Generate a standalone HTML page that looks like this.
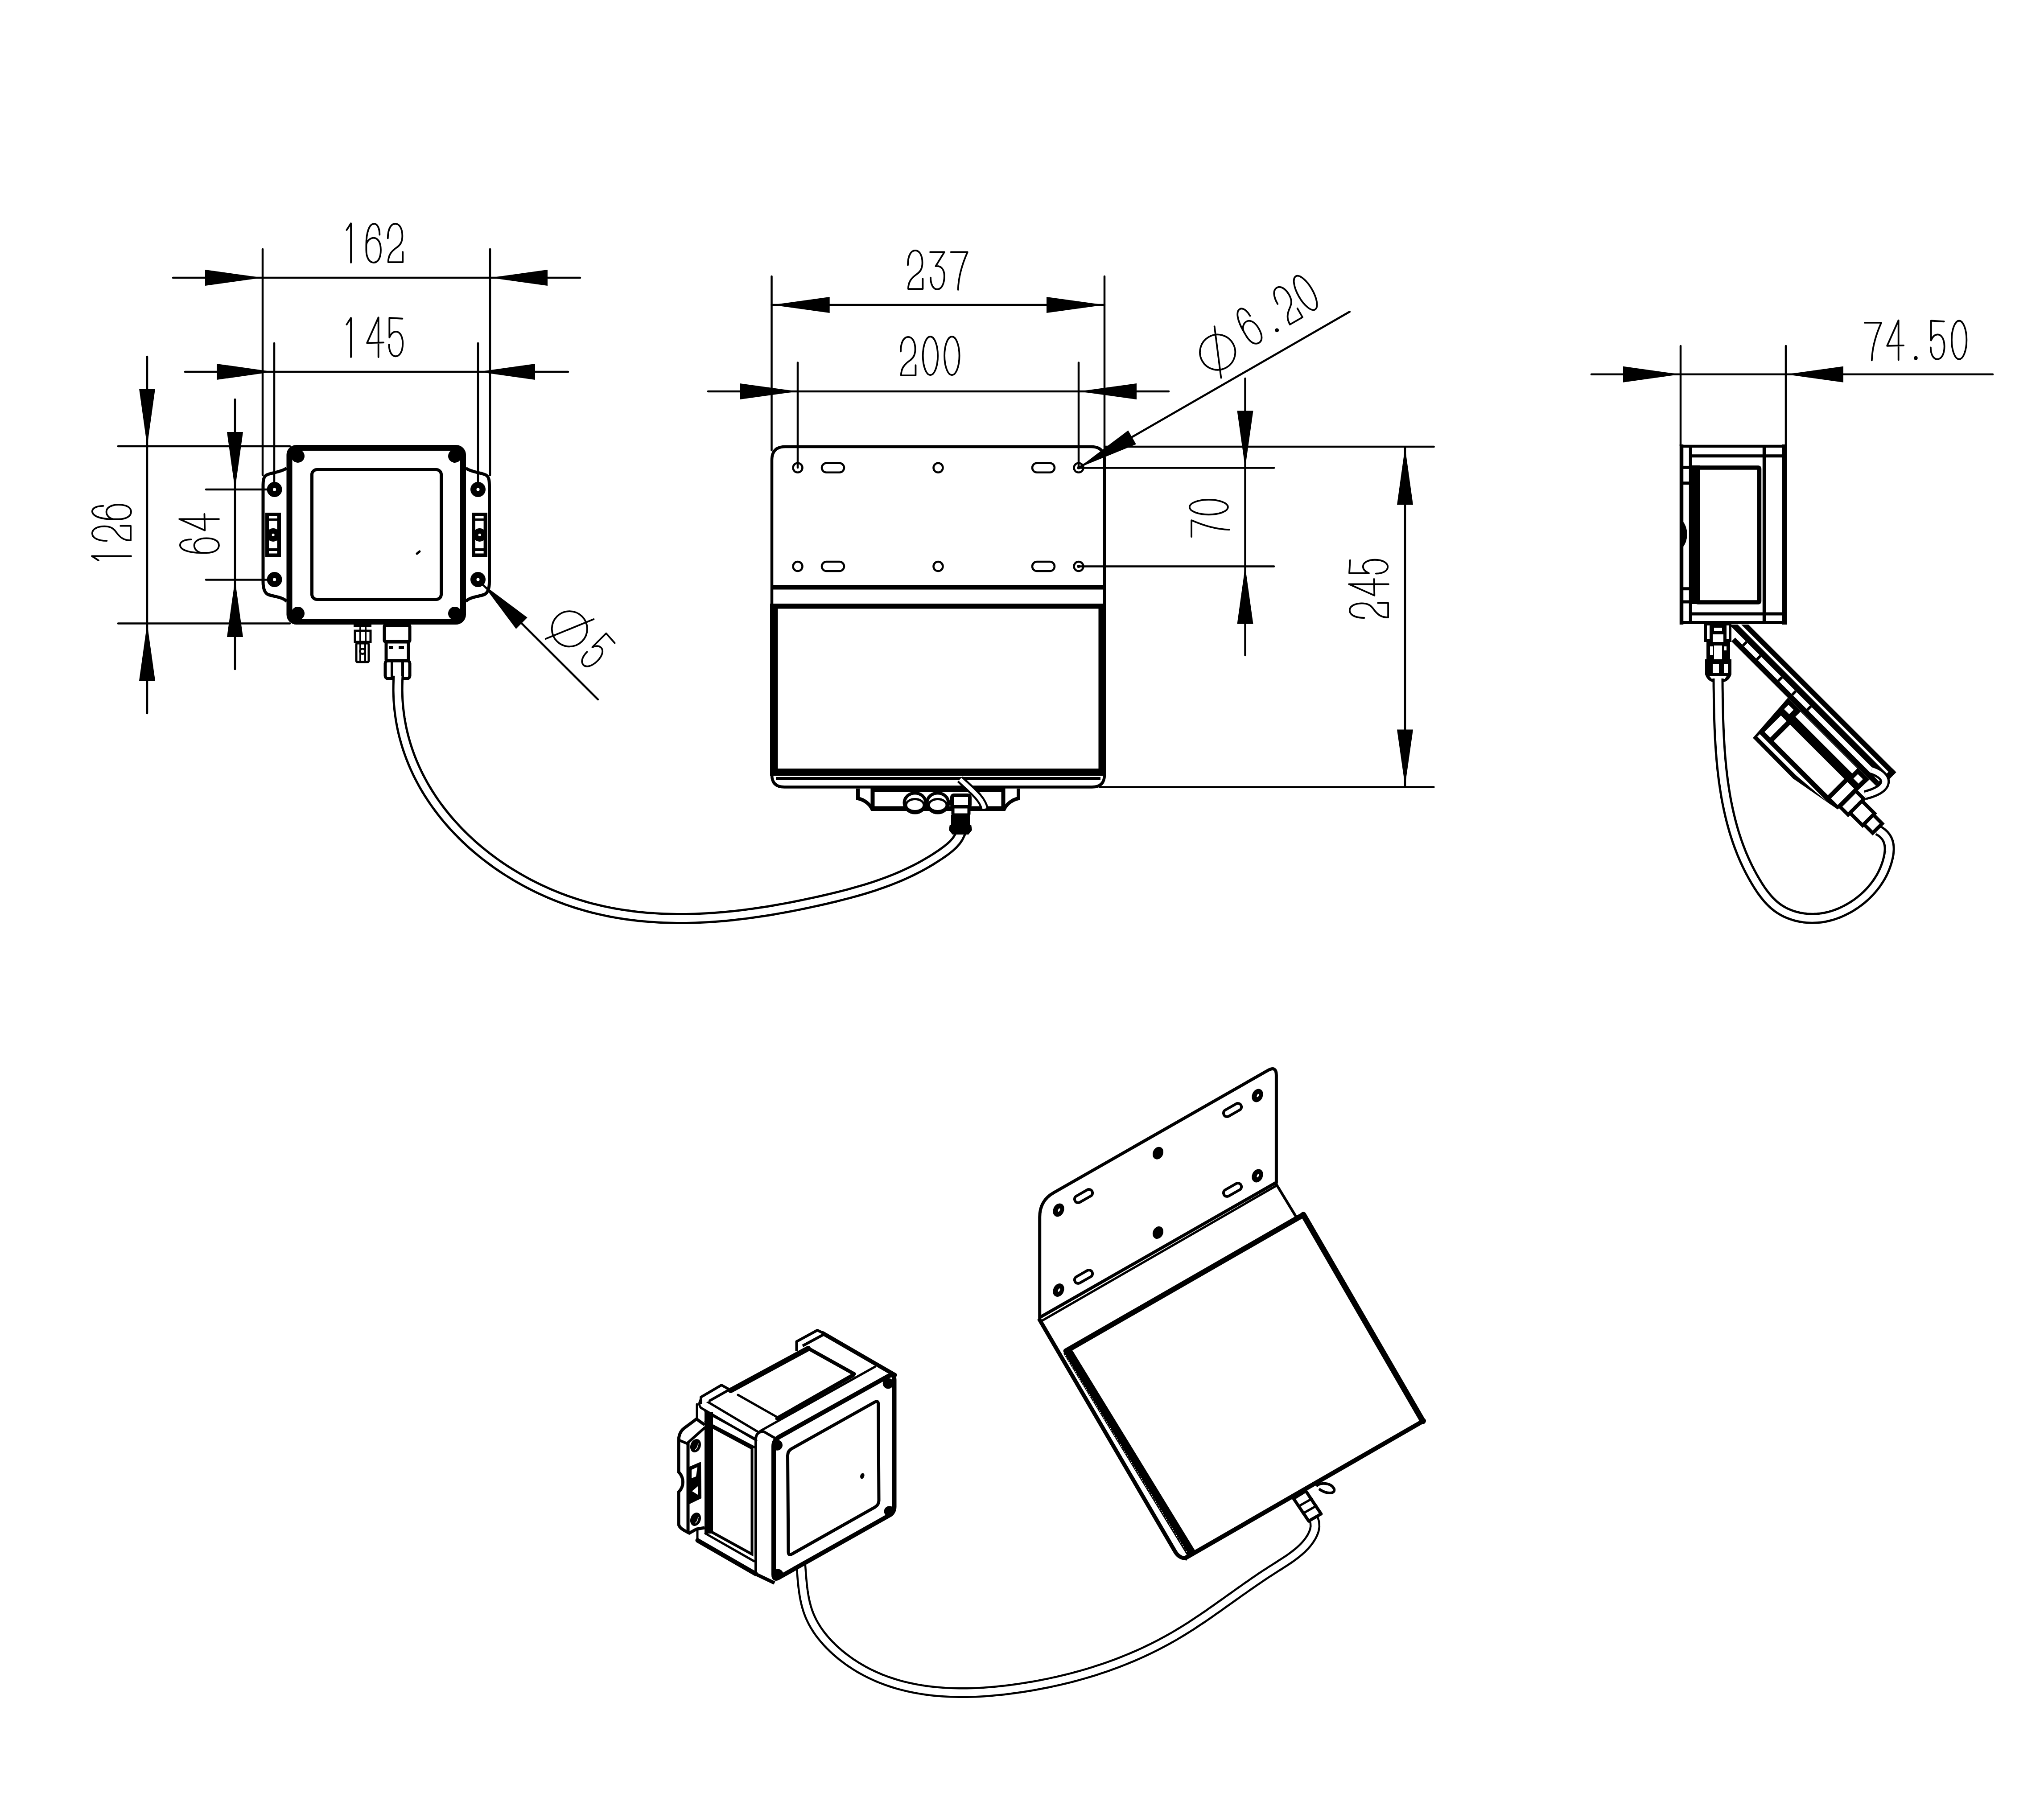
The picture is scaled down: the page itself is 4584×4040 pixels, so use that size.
<!DOCTYPE html><html><head><meta charset="utf-8"><style>html,body{margin:0;padding:0;background:#fff;width:4584px;height:4040px;overflow:hidden;font-family:"Liberation Sans",sans-serif}svg{display:block}</style></head><body><svg width="4584" height="4040" viewBox="0 0 4584 4040" stroke="#000" fill="none"><line x1="388" y1="623" x2="1301" y2="623" stroke-width="4.5" stroke-linecap="round"/>
<line x1="589" y1="559" x2="589" y2="1066" stroke-width="4.5" stroke-linecap="round"/>
<line x1="1099" y1="559" x2="1099" y2="1066" stroke-width="4.5" stroke-linecap="round"/>
<path d="M589,623 L460,641 L460,605 Z" stroke="none" fill="#000"/>
<path d="M1099,623 L1228,605 L1228,641 Z" stroke="none" fill="#000"/>
<g transform="translate(773,589) rotate(0) scale(0.8800) translate(0,-100)" stroke-width="4.32" stroke-linecap="round" stroke-linejoin="round"><path d="M5,17 L16,0 L16,100" transform="translate(0,0)" fill="none"/><path d="M34,29 C34,12 28,1 20,1 C8,1 0,22 0,55 L0,68 C0,88 8,100 19,100 C30,100 37,88 37,68 C37,48 29,37 19,37 C10,37 2,44 0,55" transform="translate(55,0)" fill="none"/><path d="M0,38 C0,14 8,1 19,1 C30,1 37,14 37,32 C37,47 32,55 22,62 C8,72 1,82 1,99 L38,99 L38,73" transform="translate(110,0)" fill="none"/></g>
<line x1="415" y1="834" x2="1274" y2="834" stroke-width="4.5" stroke-linecap="round"/>
<line x1="615" y1="770" x2="615" y2="1090" stroke-width="4.5" stroke-linecap="round"/>
<line x1="1072" y1="770" x2="1072" y2="1090" stroke-width="4.5" stroke-linecap="round"/>
<path d="M613,834 L486,852 L486,816 Z" stroke="none" fill="#000"/>
<path d="M1072,834 L1200,816 L1200,852 Z" stroke="none" fill="#000"/>
<g transform="translate(773,801) rotate(0) scale(0.8800) translate(0,-100)" stroke-width="4.32" stroke-linecap="round" stroke-linejoin="round"><path d="M5,17 L16,0 L16,100" transform="translate(0,0)" fill="none"/><path d="M31,100 L31,-1 L2,64 L44,63" transform="translate(55,0)" fill="none"/><path d="M37,2 L4,0 L4,50 C8,40 14,35 21,35 C31,35 38,48 38,65 C38,86 30,98 20,98 C10,98 3,86 3,68" transform="translate(110,0)" fill="none"/></g>
<line x1="330" y1="800" x2="330" y2="1600" stroke-width="4.5" stroke-linecap="round"/>
<line x1="265" y1="1001" x2="650" y2="1001" stroke-width="4.5" stroke-linecap="round"/>
<line x1="265" y1="1398.5" x2="650" y2="1398.5" stroke-width="4.5" stroke-linecap="round"/>
<path d="M330,1001 L312,872 L348,872 Z" stroke="none" fill="#000"/>
<path d="M330,1398.5 L348,1527 L312,1527 Z" stroke="none" fill="#000"/>
<g transform="translate(294,1261.5) rotate(-90) scale(0.8800) translate(0,-100)" stroke-width="4.32" stroke-linecap="round" stroke-linejoin="round"><path d="M5,17 L16,0 L16,100" transform="translate(0,0)" fill="none"/><path d="M0,38 C0,14 8,1 19,1 C30,1 37,14 37,32 C37,47 32,55 22,62 C8,72 1,82 1,99 L38,99 L38,73" transform="translate(55,0)" fill="none"/><path d="M34,29 C34,12 28,1 20,1 C8,1 0,22 0,55 L0,68 C0,88 8,100 19,100 C30,100 37,88 37,68 C37,48 29,37 19,37 C10,37 2,44 0,55" transform="translate(110,0)" fill="none"/></g>
<line x1="527" y1="896" x2="527" y2="1501" stroke-width="4.5" stroke-linecap="round"/>
<line x1="462" y1="1098" x2="600" y2="1098" stroke-width="4.5" stroke-linecap="round"/>
<line x1="462" y1="1300.5" x2="600" y2="1300.5" stroke-width="4.5" stroke-linecap="round"/>
<path d="M527,1098 L509,969 L545,969 Z" stroke="none" fill="#000"/>
<path d="M527,1300.5 L545,1429 L509,1429 Z" stroke="none" fill="#000"/>
<g transform="translate(491,1240) rotate(-90) scale(0.8800) translate(0,-100)" stroke-width="4.32" stroke-linecap="round" stroke-linejoin="round"><path d="M34,29 C34,12 28,1 20,1 C8,1 0,22 0,55 L0,68 C0,88 8,100 19,100 C30,100 37,88 37,68 C37,48 29,37 19,37 C10,37 2,44 0,55" transform="translate(0,0)" fill="none"/><path d="M31,100 L31,-1 L2,64 L44,63" transform="translate(55,0)" fill="none"/></g>
<line x1="1072" y1="1300.6" x2="1341" y2="1569" stroke-width="4.5" stroke-linecap="round"/>
<path d="M1082,1310 L1182.7,1385.3 L1157.3,1410.7 Z" stroke="none" fill="#000"/>
<g transform="translate(1230.6,1430) rotate(45) scale(0.8800) translate(0,-100)" stroke-width="4.32" stroke-linecap="round" stroke-linejoin="round"><circle cx="22" cy="47" r="45" fill="none"/><path d="M-3,108 L48,-14" fill="none"/><path d="M37,2 L4,0 L4,50 C8,40 14,35 21,35 C31,35 38,48 38,65 C38,86 30,98 20,98 C10,98 3,86 3,68" transform="translate(92,-11)" fill="none"/></g>
<path d="M643,1050 C630,1060 606,1060 597,1066 C590,1071 590,1080 590,1092 L590,1305 C590,1318 592,1328 600,1333 C610,1338 632,1338 643,1349" stroke-width="7" fill="none" />
<path d="M1044.5,1050 C1057.5,1060 1081.5,1060 1090.5,1066 C1097.5,1071 1097.5,1080 1097.5,1092 L1097.5,1305 C1097.5,1318 1095.5,1328 1087.5,1333 C1077.5,1338 1055.5,1338 1044.5,1349" stroke-width="7" fill="none" />
<circle cx="615.6" cy="1098" r="17" stroke="none" fill="#000"/>
<circle cx="615.6" cy="1098" r="3.5" stroke="none" fill="#fff"/>
<circle cx="615.6" cy="1300" r="17" stroke="none" fill="#000"/>
<circle cx="615.6" cy="1300" r="3.5" stroke="none" fill="#fff"/>
<circle cx="1072" cy="1098" r="17" stroke="none" fill="#000"/>
<circle cx="1072" cy="1098" r="3.5" stroke="none" fill="#fff"/>
<circle cx="1072" cy="1300" r="17" stroke="none" fill="#000"/>
<circle cx="1072" cy="1300" r="3.5" stroke="none" fill="#fff"/>
<rect x="595" y="1150" width="35" height="99" stroke="none" fill="#000"/>
<rect x="603" y="1158" width="18.6" height="5" stroke="none" fill="#fff"/>
<rect x="603" y="1236" width="18.6" height="5.5" stroke="none" fill="#fff"/>
<rect x="603" y="1168" width="18.6" height="62" stroke="none" fill="#fff"/>
<circle cx="612.6" cy="1200" r="15" stroke="none" fill="#000"/>
<circle cx="612.6" cy="1200" r="3" stroke="none" fill="#fff"/>
<rect x="1058" y="1150" width="35" height="99" stroke="none" fill="#000"/>
<rect x="1066" y="1158" width="18.6" height="5" stroke="none" fill="#fff"/>
<rect x="1066" y="1236" width="18.6" height="5.5" stroke="none" fill="#fff"/>
<rect x="1066" y="1168" width="18.6" height="62" stroke="none" fill="#fff"/>
<circle cx="1075.7" cy="1200" r="15" stroke="none" fill="#000"/>
<circle cx="1075.7" cy="1200" r="3" stroke="none" fill="#fff"/>
<rect x="649" y="1004.5" width="389.5" height="390" rx="16" stroke-width="13" fill="none"/>
<circle cx="668" cy="1023" r="15" stroke="none" fill="#000"/>
<circle cx="1020" cy="1023" r="15" stroke="none" fill="#000"/>
<circle cx="668" cy="1376" r="15" stroke="none" fill="#000"/>
<circle cx="1020" cy="1376" r="15" stroke="none" fill="#000"/>
<rect x="699.5" y="1053.5" width="290" height="291" rx="11" stroke-width="7" fill="none"/>
<line x1="935" y1="1242" x2="941" y2="1237" stroke-width="5" stroke-linecap="round"/>
<rect x="793" y="1401" width="40" height="6" stroke="none" fill="#000"/>
<rect x="796" y="1415" width="35" height="25" rx="0" stroke-width="5" fill="none"/>
<line x1="808" y1="1408" x2="808" y2="1440" stroke-width="4" stroke-linecap="round"/>
<line x1="820" y1="1408" x2="820" y2="1440" stroke-width="4" stroke-linecap="round"/>
<rect x="799" y="1443" width="28" height="42" rx="3" stroke-width="5" fill="none"/>
<line x1="808" y1="1443" x2="808" y2="1485" stroke-width="4" stroke-linecap="round"/>
<line x1="819" y1="1443" x2="819" y2="1485" stroke-width="4" stroke-linecap="round"/>
<circle cx="813" cy="1461" r="8" stroke="none" fill="#000"/>
<circle cx="813" cy="1461" r="3.5" stroke="none" fill="#fff"/>
<rect x="862" y="1403" width="57" height="36" rx="2" stroke-width="7" fill="none"/>
<rect x="866" y="1440" width="50" height="42" rx="2" stroke-width="7" fill="none"/>
<rect x="872" y="1449" width="10" height="7" stroke="none" fill="#000"/>
<rect x="894" y="1449" width="12" height="7" stroke="none" fill="#000"/>
<rect x="864" y="1482" width="55" height="40" rx="6" stroke-width="7" fill="none"/>
<line x1="879" y1="1482" x2="879" y2="1522" stroke-width="6" stroke-linecap="round"/>
<line x1="903" y1="1482" x2="903" y2="1522" stroke-width="6" stroke-linecap="round"/>
<path d="M893.0,1516.3 L892.5,1527.2 L892.2,1538.0 L892.1,1548.7 L892.4,1559.3 L892.8,1569.8 L893.6,1580.3 L894.6,1590.7 L895.8,1601.0 L897.3,1611.3 L899.0,1621.4 L900.9,1631.5 L903.1,1641.5 L905.5,1651.4 L908.2,1661.2 L911.0,1670.9 L914.1,1680.5 L917.4,1690.0 L920.9,1699.5 L924.6,1708.8 L928.5,1718.1 L932.6,1727.2 L936.9,1736.3 L941.5,1745.3 L946.2,1754.1 L951.0,1762.9 L956.1,1771.5 L961.4,1780.1 L966.8,1788.5 L972.4,1796.9 L978.2,1805.1 L984.1,1813.2 L990.2,1821.2 L996.5,1829.1 L1002.9,1836.9 L1009.5,1844.6 L1016.2,1852.1 L1023.1,1859.6 L1030.1,1866.9 L1037.2,1874.1 L1044.5,1881.2 L1051.9,1888.1 L1059.4,1895.0 L1067.1,1901.7 L1074.9,1908.3 L1082.8,1914.7 L1090.8,1921.1 L1099.0,1927.3 L1107.2,1933.3 L1115.5,1939.3 L1124.0,1945.1 L1132.5,1950.8 L1141.2,1956.3 L1149.9,1961.7 L1158.7,1967.0 L1167.6,1972.1 L1176.6,1977.1 L1185.6,1982.0 L1194.7,1986.7 L1203.9,1991.2 L1213.2,1995.7 L1222.5,1999.9 L1231.9,2004.1 L1241.3,2008.0 L1250.8,2011.9 L1260.3,2015.5 L1269.9,2019.1 L1279.5,2022.4 L1289.2,2025.7 L1298.9,2028.7 L1308.6,2031.6 L1318.4,2034.4 L1328.1,2037.0 L1338.0,2039.4 L1347.8,2041.7 L1357.7,2043.9 L1367.6,2045.9 L1377.5,2047.8 L1387.4,2049.5 L1397.4,2051.1 L1407.4,2052.5 L1417.4,2053.9 L1427.4,2055.1 L1437.5,2056.2 L1447.5,2057.1 L1457.6,2057.9 L1467.7,2058.6 L1477.8,2059.2 L1488.0,2059.7 L1498.1,2060.1 L1508.3,2060.3 L1518.4,2060.4 L1528.6,2060.5 L1538.8,2060.4 L1549.0,2060.2 L1559.2,2059.9 L1569.4,2059.5 L1579.6,2059.0 L1589.8,2058.5 L1600.0,2057.8 L1610.3,2057.0 L1620.5,2056.2 L1630.7,2055.2 L1640.9,2054.2 L1651.1,2053.1 L1661.3,2051.9 L1671.5,2050.7 L1681.7,2049.3 L1691.9,2047.9 L1702.1,2046.4 L1712.3,2044.9 L1722.5,2043.3 L1732.6,2041.6 L1742.8,2039.8 L1752.9,2038.0 L1763.1,2036.2 L1773.2,2034.3 L1783.3,2032.3 L1793.3,2030.3 L1803.4,2028.2 L1813.5,2026.1 L1823.5,2023.9 L1833.5,2021.7 L1843.5,2019.5 L1853.4,2017.2 L1863.4,2014.8 L1873.3,2012.5 L1883.1,2010.0 L1893.0,2007.5 L1902.8,2005.0 L1912.6,2002.3 L1922.3,1999.6 L1932.0,1996.8 L1941.7,1993.9 L1951.3,1990.9 L1960.9,1987.8 L1970.4,1984.5 L1979.9,1981.2 L1989.3,1977.8 L1998.6,1974.2 L2007.9,1970.5 L2017.2,1966.6 L2026.4,1962.6 L2035.5,1958.4 L2044.5,1954.1 L2053.5,1949.6 L2062.4,1945.0 L2071.3,1940.1 L2080.0,1935.1 L2088.7,1929.9 L2097.3,1924.5 L2105.8,1918.9 L2114.3,1913.1 L2122.6,1907.1 L2130.6,1900.7 L2138.0,1893.8 L2144.6,1886.3 L2150.1,1878.0 L2154.4,1868.9 L2157.1,1858.7" stroke-width="25" fill="none" stroke-linecap="butt" stroke-linejoin="round"/>
<path d="M893.0,1516.3 L892.5,1527.2 L892.2,1538.0 L892.1,1548.7 L892.4,1559.3 L892.8,1569.8 L893.6,1580.3 L894.6,1590.7 L895.8,1601.0 L897.3,1611.3 L899.0,1621.4 L900.9,1631.5 L903.1,1641.5 L905.5,1651.4 L908.2,1661.2 L911.0,1670.9 L914.1,1680.5 L917.4,1690.0 L920.9,1699.5 L924.6,1708.8 L928.5,1718.1 L932.6,1727.2 L936.9,1736.3 L941.5,1745.3 L946.2,1754.1 L951.0,1762.9 L956.1,1771.5 L961.4,1780.1 L966.8,1788.5 L972.4,1796.9 L978.2,1805.1 L984.1,1813.2 L990.2,1821.2 L996.5,1829.1 L1002.9,1836.9 L1009.5,1844.6 L1016.2,1852.1 L1023.1,1859.6 L1030.1,1866.9 L1037.2,1874.1 L1044.5,1881.2 L1051.9,1888.1 L1059.4,1895.0 L1067.1,1901.7 L1074.9,1908.3 L1082.8,1914.7 L1090.8,1921.1 L1099.0,1927.3 L1107.2,1933.3 L1115.5,1939.3 L1124.0,1945.1 L1132.5,1950.8 L1141.2,1956.3 L1149.9,1961.7 L1158.7,1967.0 L1167.6,1972.1 L1176.6,1977.1 L1185.6,1982.0 L1194.7,1986.7 L1203.9,1991.2 L1213.2,1995.7 L1222.5,1999.9 L1231.9,2004.1 L1241.3,2008.0 L1250.8,2011.9 L1260.3,2015.5 L1269.9,2019.1 L1279.5,2022.4 L1289.2,2025.7 L1298.9,2028.7 L1308.6,2031.6 L1318.4,2034.4 L1328.1,2037.0 L1338.0,2039.4 L1347.8,2041.7 L1357.7,2043.9 L1367.6,2045.9 L1377.5,2047.8 L1387.4,2049.5 L1397.4,2051.1 L1407.4,2052.5 L1417.4,2053.9 L1427.4,2055.1 L1437.5,2056.2 L1447.5,2057.1 L1457.6,2057.9 L1467.7,2058.6 L1477.8,2059.2 L1488.0,2059.7 L1498.1,2060.1 L1508.3,2060.3 L1518.4,2060.4 L1528.6,2060.5 L1538.8,2060.4 L1549.0,2060.2 L1559.2,2059.9 L1569.4,2059.5 L1579.6,2059.0 L1589.8,2058.5 L1600.0,2057.8 L1610.3,2057.0 L1620.5,2056.2 L1630.7,2055.2 L1640.9,2054.2 L1651.1,2053.1 L1661.3,2051.9 L1671.5,2050.7 L1681.7,2049.3 L1691.9,2047.9 L1702.1,2046.4 L1712.3,2044.9 L1722.5,2043.3 L1732.6,2041.6 L1742.8,2039.8 L1752.9,2038.0 L1763.1,2036.2 L1773.2,2034.3 L1783.3,2032.3 L1793.3,2030.3 L1803.4,2028.2 L1813.5,2026.1 L1823.5,2023.9 L1833.5,2021.7 L1843.5,2019.5 L1853.4,2017.2 L1863.4,2014.8 L1873.3,2012.5 L1883.1,2010.0 L1893.0,2007.5 L1902.8,2005.0 L1912.6,2002.3 L1922.3,1999.6 L1932.0,1996.8 L1941.7,1993.9 L1951.3,1990.9 L1960.9,1987.8 L1970.4,1984.5 L1979.9,1981.2 L1989.3,1977.8 L1998.6,1974.2 L2007.9,1970.5 L2017.2,1966.6 L2026.4,1962.6 L2035.5,1958.4 L2044.5,1954.1 L2053.5,1949.6 L2062.4,1945.0 L2071.3,1940.1 L2080.0,1935.1 L2088.7,1929.9 L2097.3,1924.5 L2105.8,1918.9 L2114.3,1913.1 L2122.6,1907.1 L2130.6,1900.7 L2138.0,1893.8 L2144.6,1886.3 L2150.1,1878.0 L2154.4,1868.9 L2157.1,1858.7" stroke="#fff" stroke-width="15" fill="none" stroke-linecap="butt" stroke-linejoin="round"/>
<line x1="1730.5" y1="684" x2="2477" y2="684" stroke-width="4.5" stroke-linecap="round"/>
<line x1="1730.5" y1="620" x2="1730.5" y2="1010" stroke-width="4.5" stroke-linecap="round"/>
<line x1="2477" y1="620" x2="2477" y2="1010" stroke-width="4.5" stroke-linecap="round"/>
<path d="M1730.5,684 L1860.7,666 L1860.7,702 Z" stroke="none" fill="#000"/>
<path d="M2477,684 L2347,702 L2347,666 Z" stroke="none" fill="#000"/>
<g transform="translate(2036,649) rotate(0) scale(0.8800) translate(0,-100)" stroke-width="4.32" stroke-linecap="round" stroke-linejoin="round"><path d="M0,38 C0,14 8,1 19,1 C30,1 37,14 37,32 C37,47 32,55 22,62 C8,72 1,82 1,99 L38,99 L38,73" transform="translate(0,0)" fill="none"/><path d="M2,5 L38,5 L16,41 C30,39 38,50 38,66 C38,88 30,100 20,100 C10,100 3,88 3,70" transform="translate(55,0)" fill="none"/><path d="M0,5 L42,5 C30,32 19,65 18,101" transform="translate(110,0)" fill="none"/></g>
<line x1="1588" y1="878" x2="2621" y2="878" stroke-width="4.5" stroke-linecap="round"/>
<line x1="1789" y1="813.5" x2="1789" y2="1049" stroke-width="4.5" stroke-linecap="round"/>
<line x1="2419" y1="813.5" x2="2419" y2="1049" stroke-width="4.5" stroke-linecap="round"/>
<path d="M1789,878 L1659,896 L1659,860 Z" stroke="none" fill="#000"/>
<path d="M2419,878 L2549,860 L2549,896 Z" stroke="none" fill="#000"/>
<g transform="translate(2020,843) rotate(0) scale(0.8800) translate(0,-100)" stroke-width="4.32" stroke-linecap="round" stroke-linejoin="round"><path d="M0,38 C0,14 8,1 19,1 C30,1 37,14 37,32 C37,47 32,55 22,62 C8,72 1,82 1,99 L38,99 L38,73" transform="translate(0,0)" fill="none"/><path d="M20.5,0 C31,0 39.5,22 39.5,49 C39.5,76 31,98 20.5,98 C10,98 1.5,76 1.5,49 C1.5,22 10,0 20.5,0 Z" transform="translate(55,0)" fill="none"/><path d="M20.5,0 C31,0 39.5,22 39.5,49 C39.5,76 31,98 20.5,98 C10,98 1.5,76 1.5,49 C1.5,22 10,0 20.5,0 Z" transform="translate(110,0)" fill="none"/></g>
<line x1="2419" y1="1049.3" x2="3026.8" y2="699.3" stroke-width="4.5" stroke-linecap="round"/>
<path d="M2419,1049.3 L2530.1,965.4 L2547.9,996.6 Z" stroke="none" fill="#000"/>
<g transform="translate(2737.2,840.2) rotate(-30) scale(0.8800) translate(0,-100)" stroke-width="4.32" stroke-linecap="round" stroke-linejoin="round"><circle cx="22" cy="47" r="45" fill="none"/><path d="M-3,108 L48,-14" fill="none"/><path d="M34,29 C34,12 28,1 20,1 C8,1 0,22 0,55 L0,68 C0,88 8,100 19,100 C30,100 37,88 37,68 C37,48 29,37 19,37 C10,37 2,44 0,55" transform="translate(106,-21)" fill="none"/><circle cx="181" cy="74" r="5" fill="#000" stroke="none"/><path d="M0,38 C0,14 8,1 19,1 C30,1 37,14 37,32 C37,47 32,55 22,62 C8,72 1,82 1,99 L38,99 L38,73" transform="translate(216,-21)" fill="none"/><path d="M20.5,0 C31,0 39.5,22 39.5,49 C39.5,76 31,98 20.5,98 C10,98 1.5,76 1.5,49 C1.5,22 10,0 20.5,0 Z" transform="translate(271,-21)" fill="none"/></g>
<line x1="2792.5" y1="849" x2="2792.5" y2="1470" stroke-width="4.5" stroke-linecap="round"/>
<line x1="2419" y1="1049.6" x2="2857" y2="1049.6" stroke-width="4.5" stroke-linecap="round"/>
<line x1="2419" y1="1270.6" x2="2857" y2="1270.6" stroke-width="4.5" stroke-linecap="round"/>
<path d="M2792.5,1049.6 L2774.5,921.6 L2810.5,921.6 Z" stroke="none" fill="#000"/>
<path d="M2792.5,1270.6 L2810.5,1399.7 L2774.5,1399.7 Z" stroke="none" fill="#000"/>
<g transform="translate(2755.7,1204) rotate(-90) scale(0.8800) translate(0,-100)" stroke-width="4.32" stroke-linecap="round" stroke-linejoin="round"><path d="M0,5 L42,5 C30,32 19,65 18,101" transform="translate(0,0)" fill="none"/><path d="M20.5,0 C31,0 39.5,22 39.5,49 C39.5,76 31,98 20.5,98 C10,98 1.5,76 1.5,49 C1.5,22 10,0 20.5,0 Z" transform="translate(55,0)" fill="none"/></g>
<line x1="3151" y1="1003" x2="3151" y2="1765" stroke-width="4.5" stroke-linecap="round"/>
<line x1="2477" y1="1002" x2="3215.7" y2="1002" stroke-width="4.5" stroke-linecap="round"/>
<line x1="2466" y1="1765.5" x2="3215.4" y2="1765.5" stroke-width="4.5" stroke-linecap="round"/>
<path d="M3151,1003 L3169,1132.6 L3133,1132.6 Z" stroke="none" fill="#000"/>
<path d="M3151,1763 L3133,1636.5 L3169,1636.5 Z" stroke="none" fill="#000"/>
<g transform="translate(3114,1386) rotate(-90) scale(0.8800) translate(0,-100)" stroke-width="4.32" stroke-linecap="round" stroke-linejoin="round"><path d="M0,38 C0,14 8,1 19,1 C30,1 37,14 37,32 C37,47 32,55 22,62 C8,72 1,82 1,99 L38,99 L38,73" transform="translate(0,0)" fill="none"/><path d="M31,100 L31,-1 L2,64 L44,63" transform="translate(55,0)" fill="none"/><path d="M37,2 L4,0 L4,50 C8,40 14,35 21,35 C31,35 38,48 38,65 C38,86 30,98 20,98 C10,98 3,86 3,68" transform="translate(110,0)" fill="none"/></g>
<path d="M1731,1738 L1731,1032 Q1731,1002 1761,1002 L2447,1002 Q2477,1002 2477,1032 L2477,1738 Q2477,1765.5 2449,1765.5 L1759,1765.5 Q1731,1765.5 1731,1738 Z" stroke-width="6.5" fill="none" />
<circle cx="1789" cy="1049.3" r="10.5" stroke-width="4.5" fill="none"/>
<circle cx="2104" cy="1049.3" r="10.5" stroke-width="4.5" fill="none"/>
<circle cx="2419" cy="1049.3" r="10.5" stroke-width="4.5" fill="none"/>
<rect x="1843" y="1038.8" width="50" height="21" rx="10.5" stroke-width="4.5" fill="none"/>
<rect x="2315" y="1038.8" width="50" height="21" rx="10.5" stroke-width="4.5" fill="none"/>
<circle cx="1789" cy="1270.6" r="10.5" stroke-width="4.5" fill="none"/>
<circle cx="2104" cy="1270.6" r="10.5" stroke-width="4.5" fill="none"/>
<circle cx="2419" cy="1270.6" r="10.5" stroke-width="4.5" fill="none"/>
<rect x="1843" y="1260.1" width="50" height="21" rx="10.5" stroke-width="4.5" fill="none"/>
<rect x="2315" y="1260.1" width="50" height="21" rx="10.5" stroke-width="4.5" fill="none"/>
<circle cx="2419" cy="1049.3" r="3.5" stroke="none" fill="#000"/>
<circle cx="2419" cy="1270.6" r="3.5" stroke="none" fill="#000"/>
<rect x="1731" y="1312" width="746" height="10.5" stroke="none" fill="#000"/>
<rect x="1731" y="1354" width="746" height="11.5" stroke="none" fill="#000"/>
<rect x="1727" y="1354" width="17.5" height="386" stroke="none" fill="#000"/>
<rect x="2463.5" y="1354" width="17" height="386" stroke="none" fill="#000"/>
<rect x="1727" y="1724" width="754" height="16.5" stroke="none" fill="#000"/>
<line x1="1740" y1="1746.5" x2="2468" y2="1746.5" stroke-width="7" stroke-linecap="butt"/>
<path d="M1924,1769 V1791 C1938,1794 1950,1803 1956,1815 H2252 C2258,1803 2270,1794 2284,1791 V1769" stroke-width="8" fill="none" />
<rect x="1957" y="1772" width="293" height="41" rx="0" stroke-width="9" fill="none"/>
<path d="M2153,1748 C2178,1772 2203,1790 2208,1814" stroke-width="18" fill="none" />
<path d="M2153,1748 C2178,1772 2203,1790 2208,1814" stroke-width="9" fill="none" stroke="#fff"/>
<ellipse cx="2052" cy="1801" rx="24" ry="22" stroke-width="7" fill="#fff"/>
<ellipse cx="2052" cy="1806" rx="20" ry="13.5" stroke-width="5" fill="#fff"/>
<ellipse cx="2103" cy="1801" rx="24" ry="22" stroke-width="7" fill="#fff"/>
<ellipse cx="2103" cy="1806" rx="20" ry="13.5" stroke-width="5" fill="#fff"/>
<rect x="2135" y="1784" width="40" height="26" rx="4" stroke-width="8" fill="#fff"/>
<rect x="2137" y="1810" width="36" height="18" rx="2" stroke-width="7" fill="#fff"/>
<rect x="2133" y="1828" width="42" height="40" stroke="none" fill="#000"/>
<path d="M2130,1850 L2178,1850 L2180,1862 L2172,1872 L2136,1872 L2128,1862 Z" stroke="none" fill="#000"/>
<line x1="3569" y1="839.7" x2="4469" y2="839.7" stroke-width="4.5" stroke-linecap="round"/>
<line x1="3769" y1="776" x2="3769" y2="1000" stroke-width="4.5" stroke-linecap="round"/>
<line x1="4005" y1="776" x2="4005" y2="1000" stroke-width="4.5" stroke-linecap="round"/>
<path d="M3768,839.7 L3640,857.7 L3640,821.7 Z" stroke="none" fill="#000"/>
<path d="M4005,839.7 L4134,821.7 L4134,857.7 Z" stroke="none" fill="#000"/>
<g transform="translate(4182,807.5) rotate(0) scale(0.8800) translate(0,-100)" stroke-width="4.32" stroke-linecap="round" stroke-linejoin="round"><path d="M0,5 L42,5 C30,32 19,65 18,101" transform="translate(0,0)" fill="none"/><path d="M31,100 L31,-1 L2,64 L44,63" transform="translate(55,0)" fill="none"/><circle cx="130" cy="95" r="5" fill="#000" stroke="none"/><path d="M37,2 L4,0 L4,50 C8,40 14,35 21,35 C31,35 38,48 38,65 C38,86 30,98 20,98 C10,98 3,86 3,68" transform="translate(165,0)" fill="none"/><path d="M20.5,0 C31,0 39.5,22 39.5,49 C39.5,76 31,98 20.5,98 C10,98 1.5,76 1.5,49 C1.5,22 10,0 20.5,0 Z" transform="translate(220,0)" fill="none"/></g>
<line x1="3771" y1="1001" x2="4002" y2="1001" stroke-width="6.5" stroke-linecap="butt"/>
<line x1="3771" y1="1396.6" x2="4002" y2="1396.6" stroke-width="7" stroke-linecap="butt"/>
<line x1="3771" y1="997" x2="3771" y2="1401" stroke-width="8.5" stroke-linecap="butt"/>
<line x1="4002" y1="997" x2="4002" y2="1401" stroke-width="11" stroke-linecap="butt"/>
<line x1="3791.3" y1="1001" x2="3791.3" y2="1396" stroke-width="7" stroke-linecap="butt"/>
<line x1="3956.8" y1="1001" x2="3956.8" y2="1396" stroke-width="8" stroke-linecap="butt"/>
<line x1="3791" y1="1022.7" x2="3997" y2="1022.7" stroke-width="7" stroke-linecap="butt"/>
<line x1="3791" y1="1377" x2="3997" y2="1377" stroke-width="7" stroke-linecap="butt"/>
<line x1="3775" y1="1048.4" x2="3788" y2="1048.4" stroke-width="7" stroke-linecap="butt"/>
<line x1="3775" y1="1083.8" x2="3788" y2="1083.8" stroke-width="7" stroke-linecap="butt"/>
<line x1="3775" y1="1320.7" x2="3788" y2="1320.7" stroke-width="7" stroke-linecap="butt"/>
<line x1="3775" y1="1350" x2="3788" y2="1350" stroke-width="7" stroke-linecap="butt"/>
<rect x="3805.5" y="1049" width="140" height="302" rx="2" stroke-width="9.5" fill="none"/>
<rect x="3792" y="1044" width="20" height="311" stroke="none" fill="#000"/>
<path d="M3771,1168 C3786,1185 3786,1212 3771,1229 Z" stroke-width="3" fill="#000" />
<rect x="3821" y="1400" width="62" height="40" stroke="none" fill="#000"/>
<rect x="3828" y="1403" width="6" height="30" stroke="none" fill="#fff"/>
<rect x="3872" y="1403" width="6" height="30" stroke="none" fill="#fff"/>
<rect x="3844" y="1408" width="18" height="8" stroke="none" fill="#fff"/>
<rect x="3841" y="1423" width="24" height="18" stroke="none" fill="#fff"/>
<rect x="3827" y="1440" width="53" height="39" stroke="none" fill="#000"/>
<rect x="3835" y="1450" width="7" height="19" stroke="none" fill="#fff"/>
<rect x="3867" y="1450" width="5" height="9" stroke="none" fill="#fff"/>
<rect x="3844" y="1448" width="18" height="31" stroke="none" fill="#fff"/>
<path d="M3824,1479 L3883,1479 L3883,1513 Q3878,1527 3866,1530 L3841,1530 Q3829,1527 3824,1513 Z" stroke-width="0" fill="#000" />
<rect x="3841" y="1489.6" width="14" height="20.4" stroke="none" fill="#fff"/>
<rect x="3866" y="1489.6" width="9" height="20.4" stroke="none" fill="#fff"/>
<path d="M3834,1517 L3872,1517 L3868,1523 L3839,1523 Z" stroke-width="0" fill="#fff" />
<path d="M3853.0,1522.1 L3853.0,1527.9 L3853.1,1533.6 L3853.1,1539.4 L3853.2,1545.3 L3853.3,1551.1 L3853.4,1556.9 L3853.4,1562.7 L3853.5,1568.5 L3853.6,1574.4 L3853.7,1580.2 L3853.8,1586.1 L3854.0,1591.9 L3854.1,1597.8 L3854.3,1603.6 L3854.4,1609.5 L3854.6,1615.4 L3854.8,1621.2 L3855.0,1627.1 L3855.2,1633.0 L3855.5,1638.9 L3855.8,1644.7 L3856.0,1650.6 L3856.3,1656.5 L3856.7,1662.3 L3857.0,1668.2 L3857.4,1674.1 L3857.8,1679.9 L3858.2,1685.8 L3858.7,1691.7 L3859.1,1697.5 L3859.6,1703.4 L3860.2,1709.2 L3860.7,1715.1 L3861.3,1720.9 L3861.9,1726.8 L3862.6,1732.6 L3863.3,1738.4 L3864.0,1744.2 L3864.7,1750.1 L3865.5,1755.9 L3866.4,1761.7 L3867.2,1767.4 L3868.1,1773.2 L3869.1,1779.0 L3870.0,1784.8 L3871.0,1790.5 L3872.1,1796.3 L3873.2,1802.0 L3874.4,1807.7 L3875.5,1813.4 L3876.8,1819.1 L3878.1,1824.8 L3879.4,1830.5 L3880.8,1836.1 L3882.2,1841.8 L3883.7,1847.4 L3885.2,1853.0 L3886.8,1858.6 L3888.4,1864.2 L3890.1,1869.8 L3891.9,1875.3 L3893.7,1880.9 L3895.5,1886.4 L3897.5,1891.9 L3899.4,1897.4 L3901.5,1902.8 L3903.6,1908.3 L3905.7,1913.7 L3908.0,1919.1 L3910.3,1924.5 L3912.6,1929.8 L3915.1,1935.1 L3917.6,1940.5 L3920.1,1945.7 L3922.8,1951.0 L3925.5,1956.2 L3928.3,1961.4 L3931.1,1966.6 L3934.1,1971.8 L3937.1,1976.9 L3940.2,1982.0 L3943.3,1987.1 L3946.6,1992.1 L3949.9,1997.1 L3953.4,2001.9 L3957.0,2006.7 L3960.7,2011.3 L3964.5,2015.9 L3968.4,2020.2 L3972.6,2024.4 L3976.8,2028.4 L3981.3,2032.2 L3985.9,2035.8 L3990.6,2039.1 L3995.6,2042.2 L4000.7,2045.1 L4006.0,2047.7 L4011.4,2050.0 L4016.9,2052.1 L4022.6,2054.0 L4028.3,2055.6 L4034.1,2057.0 L4039.9,2058.1 L4045.8,2059.0 L4051.8,2059.7 L4057.7,2060.1 L4063.7,2060.2 L4069.6,2060.1 L4075.5,2059.8 L4081.4,2059.3 L4087.2,2058.5 L4093.0,2057.5 L4098.7,2056.2 L4104.4,2054.8 L4110.1,2053.2 L4115.6,2051.3 L4121.2,2049.3 L4126.6,2047.1 L4132.0,2044.7 L4137.3,2042.1 L4142.6,2039.4 L4147.8,2036.5 L4152.8,2033.5 L4157.8,2030.3 L4162.7,2027.0 L4167.5,2023.5 L4172.2,2019.9 L4176.8,2016.1 L4181.3,2012.2 L4185.6,2008.2 L4189.8,2004.0 L4193.9,1999.8 L4197.8,1995.4 L4201.6,1990.8 L4205.2,1986.2 L4208.7,1981.5 L4212.0,1976.6 L4215.2,1971.6 L4218.2,1966.6 L4221.0,1961.4 L4223.6,1956.1 L4226.0,1950.7 L4228.2,1945.3 L4230.2,1939.7 L4232.0,1934.1 L4233.6,1928.4 L4235.0,1922.5 L4236.1,1916.7 L4236.8,1910.8 L4237.2,1905.0 L4237.0,1899.2 L4236.2,1893.6 L4234.8,1888.1 L4232.7,1882.8 L4229.7,1877.7 L4225.9,1872.9 L4221.1,1868.4 L4215.9,1864.7 L4211.0,1862.2" stroke-width="25" fill="none" stroke-linecap="butt" stroke-linejoin="round"/>
<path d="M3853.0,1522.1 L3853.0,1527.9 L3853.1,1533.6 L3853.1,1539.4 L3853.2,1545.3 L3853.3,1551.1 L3853.4,1556.9 L3853.4,1562.7 L3853.5,1568.5 L3853.6,1574.4 L3853.7,1580.2 L3853.8,1586.1 L3854.0,1591.9 L3854.1,1597.8 L3854.3,1603.6 L3854.4,1609.5 L3854.6,1615.4 L3854.8,1621.2 L3855.0,1627.1 L3855.2,1633.0 L3855.5,1638.9 L3855.8,1644.7 L3856.0,1650.6 L3856.3,1656.5 L3856.7,1662.3 L3857.0,1668.2 L3857.4,1674.1 L3857.8,1679.9 L3858.2,1685.8 L3858.7,1691.7 L3859.1,1697.5 L3859.6,1703.4 L3860.2,1709.2 L3860.7,1715.1 L3861.3,1720.9 L3861.9,1726.8 L3862.6,1732.6 L3863.3,1738.4 L3864.0,1744.2 L3864.7,1750.1 L3865.5,1755.9 L3866.4,1761.7 L3867.2,1767.4 L3868.1,1773.2 L3869.1,1779.0 L3870.0,1784.8 L3871.0,1790.5 L3872.1,1796.3 L3873.2,1802.0 L3874.4,1807.7 L3875.5,1813.4 L3876.8,1819.1 L3878.1,1824.8 L3879.4,1830.5 L3880.8,1836.1 L3882.2,1841.8 L3883.7,1847.4 L3885.2,1853.0 L3886.8,1858.6 L3888.4,1864.2 L3890.1,1869.8 L3891.9,1875.3 L3893.7,1880.9 L3895.5,1886.4 L3897.5,1891.9 L3899.4,1897.4 L3901.5,1902.8 L3903.6,1908.3 L3905.7,1913.7 L3908.0,1919.1 L3910.3,1924.5 L3912.6,1929.8 L3915.1,1935.1 L3917.6,1940.5 L3920.1,1945.7 L3922.8,1951.0 L3925.5,1956.2 L3928.3,1961.4 L3931.1,1966.6 L3934.1,1971.8 L3937.1,1976.9 L3940.2,1982.0 L3943.3,1987.1 L3946.6,1992.1 L3949.9,1997.1 L3953.4,2001.9 L3957.0,2006.7 L3960.7,2011.3 L3964.5,2015.9 L3968.4,2020.2 L3972.6,2024.4 L3976.8,2028.4 L3981.3,2032.2 L3985.9,2035.8 L3990.6,2039.1 L3995.6,2042.2 L4000.7,2045.1 L4006.0,2047.7 L4011.4,2050.0 L4016.9,2052.1 L4022.6,2054.0 L4028.3,2055.6 L4034.1,2057.0 L4039.9,2058.1 L4045.8,2059.0 L4051.8,2059.7 L4057.7,2060.1 L4063.7,2060.2 L4069.6,2060.1 L4075.5,2059.8 L4081.4,2059.3 L4087.2,2058.5 L4093.0,2057.5 L4098.7,2056.2 L4104.4,2054.8 L4110.1,2053.2 L4115.6,2051.3 L4121.2,2049.3 L4126.6,2047.1 L4132.0,2044.7 L4137.3,2042.1 L4142.6,2039.4 L4147.8,2036.5 L4152.8,2033.5 L4157.8,2030.3 L4162.7,2027.0 L4167.5,2023.5 L4172.2,2019.9 L4176.8,2016.1 L4181.3,2012.2 L4185.6,2008.2 L4189.8,2004.0 L4193.9,1999.8 L4197.8,1995.4 L4201.6,1990.8 L4205.2,1986.2 L4208.7,1981.5 L4212.0,1976.6 L4215.2,1971.6 L4218.2,1966.6 L4221.0,1961.4 L4223.6,1956.1 L4226.0,1950.7 L4228.2,1945.3 L4230.2,1939.7 L4232.0,1934.1 L4233.6,1928.4 L4235.0,1922.5 L4236.1,1916.7 L4236.8,1910.8 L4237.2,1905.0 L4237.0,1899.2 L4236.2,1893.6 L4234.8,1888.1 L4232.7,1882.8 L4229.7,1877.7 L4225.9,1872.9 L4221.1,1868.4 L4215.9,1864.7 L4211.0,1862.2" stroke="#fff" stroke-width="15" fill="none" stroke-linecap="butt" stroke-linejoin="round"/>
<clipPath id="brk"><rect x="3850" y="1401" width="500" height="600"/></clipPath>
<g clip-path="url(#brk)"><g transform="matrix(0.7071,0.7071,0.7071,-0.7071,3900,1402)"><rect x="-40" y="4.2" width="521" height="11.399999999999999" fill="#000" stroke="none"/><rect x="-40" y="-15" width="523" height="13.6" fill="#000" stroke="none"/><rect x="14" y="-38" width="456" height="12" fill="#000" stroke="none"/><rect x="36" y="-26" width="6" height="11" fill="#000" stroke="none"/><rect x="80" y="-26" width="6" height="11" fill="#000" stroke="none"/><rect x="148" y="-26" width="6" height="11" fill="#000" stroke="none"/><rect x="192" y="-26" width="6" height="11" fill="#000" stroke="none"/><rect x="240" y="-26" width="6" height="11" fill="#000" stroke="none"/><rect x="470" y="-38" width="13" height="53.6" fill="#000" stroke="none"/><path d="M193,-38 L201,-157 L329,-158 L449,-136 L452,-38 Z" fill="#000" stroke="none"/><rect x="239" y="-129" width="172" height="52" fill="#fff" stroke="none"/><rect x="210" y="-129" width="18" height="52" fill="#fff" stroke="none"/><rect x="421" y="-129" width="21" height="52" fill="#fff" stroke="none"/><rect x="206" y="-148" width="123" height="8" fill="#fff" stroke="none"/><path d="M329,-148 L420,-140.5 L329,-140 Z" fill="#fff" stroke="none"/><rect x="235" y="-56" width="180" height="16" fill="#fff" stroke="none"/><rect x="205" y="-62" width="16" height="14" fill="#fff" stroke="none"/><rect x="425" y="-62" width="16" height="14" fill="#fff" stroke="none"/><rect x="448" y="-128" width="26" height="50" fill="#fff" stroke-width="8"/><rect x="474" y="-122" width="40" height="38" fill="#fff" stroke-width="8"/><rect x="514" y="-118" width="28" height="30" fill="#fff" stroke-width="8"/><path d="M440,-20 C480,0 500,-20 470,-70" stroke-width="22" fill="none"/><path d="M440,-20 C480,0 500,-20 470,-70" stroke-width="12" stroke="#fff" fill="none"/></g></g>
<path d="M1795.6,3505.2 L1796.4,3514.0 L1797.1,3522.9 L1797.8,3532.0 L1798.5,3541.1 L1799.4,3550.2 L1800.3,3559.3 L1801.5,3568.5 L1802.9,3577.6 L1804.5,3586.6 L1806.5,3595.6 L1808.8,3604.4 L1811.5,3613.2 L1814.6,3621.7 L1818.2,3630.1 L1822.2,3638.3 L1826.7,3646.3 L1831.5,3654.1 L1836.7,3661.7 L1842.3,3669.2 L1848.2,3676.4 L1854.3,3683.4 L1860.7,3690.1 L1867.4,3696.7 L1874.2,3703.1 L1881.2,3709.2 L1888.4,3715.1 L1895.7,3720.7 L1903.1,3726.1 L1910.6,3731.3 L1918.2,3736.3 L1925.9,3741.0 L1933.7,3745.5 L1941.6,3749.8 L1949.5,3753.9 L1957.6,3757.7 L1965.7,3761.4 L1973.9,3764.9 L1982.2,3768.1 L1990.6,3771.2 L1999.0,3774.0 L2007.5,3776.7 L2016.1,3779.2 L2024.7,3781.5 L2033.4,3783.7 L2042.2,3785.6 L2051.0,3787.4 L2059.8,3789.0 L2068.7,3790.5 L2077.7,3791.8 L2086.7,3793.0 L2095.7,3794.0 L2104.7,3794.8 L2113.8,3795.5 L2123.0,3796.1 L2132.1,3796.5 L2141.3,3796.8 L2150.5,3796.9 L2159.7,3797.0 L2169.0,3796.9 L2178.2,3796.7 L2187.5,3796.4 L2196.7,3795.9 L2206.0,3795.4 L2215.3,3794.7 L2224.6,3794.0 L2233.9,3793.1 L2243.1,3792.2 L2252.4,3791.2 L2261.7,3790.1 L2270.9,3788.9 L2280.1,3787.6 L2289.3,3786.3 L2298.5,3784.8 L2307.6,3783.3 L2316.8,3781.8 L2325.9,3780.2 L2334.9,3778.5 L2344.0,3776.7 L2353.0,3774.9 L2362.0,3772.9 L2371.0,3771.0 L2379.9,3768.9 L2388.8,3766.8 L2397.7,3764.6 L2406.5,3762.3 L2415.3,3759.9 L2424.1,3757.5 L2432.9,3755.0 L2441.6,3752.4 L2450.3,3749.8 L2458.9,3747.0 L2467.5,3744.2 L2476.1,3741.3 L2484.7,3738.4 L2493.2,3735.3 L2501.6,3732.2 L2510.1,3729.0 L2518.5,3725.7 L2526.8,3722.3 L2535.2,3718.9 L2543.4,3715.4 L2551.7,3711.8 L2559.9,3708.1 L2568.1,3704.3 L2576.2,3700.4 L2584.3,3696.5 L2592.3,3692.5 L2600.3,3688.4 L2608.2,3684.2 L2616.2,3679.9 L2624.0,3675.5 L2631.8,3671.1 L2639.6,3666.5 L2647.3,3661.9 L2655.0,3657.2 L2662.7,3652.4 L2670.3,3647.6 L2677.9,3642.6 L2685.4,3637.6 L2693.0,3632.6 L2700.5,3627.5 L2708.0,3622.3 L2715.4,3617.1 L2722.9,3611.9 L2730.4,3606.6 L2737.8,3601.4 L2745.3,3596.0 L2752.8,3590.7 L2760.3,3585.4 L2767.8,3580.0 L2775.3,3574.7 L2782.8,3569.3 L2790.4,3564.0 L2798.0,3558.6 L2805.6,3553.3 L2813.3,3548.0 L2821.0,3542.8 L2828.7,3537.5 L2836.5,3532.3 L2844.3,3527.2 L2852.2,3522.1 L2860.2,3517.0 L2868.1,3512.0 L2876.0,3506.9 L2883.9,3501.8 L2891.5,3496.7 L2899.0,3491.4 L2906.2,3485.9 L2913.1,3480.3 L2919.6,3474.4 L2925.7,3468.3 L2931.3,3461.9 L2936.4,3455.1 L2941.0,3448.0 L2944.8,3440.5 L2947.7,3432.6 L2949.1,3424.2 L2948.6,3415.3 L2945.7,3405.8" stroke-width="24" fill="none" stroke-linecap="butt" stroke-linejoin="round"/>
<path d="M1795.6,3505.2 L1796.4,3514.0 L1797.1,3522.9 L1797.8,3532.0 L1798.5,3541.1 L1799.4,3550.2 L1800.3,3559.3 L1801.5,3568.5 L1802.9,3577.6 L1804.5,3586.6 L1806.5,3595.6 L1808.8,3604.4 L1811.5,3613.2 L1814.6,3621.7 L1818.2,3630.1 L1822.2,3638.3 L1826.7,3646.3 L1831.5,3654.1 L1836.7,3661.7 L1842.3,3669.2 L1848.2,3676.4 L1854.3,3683.4 L1860.7,3690.1 L1867.4,3696.7 L1874.2,3703.1 L1881.2,3709.2 L1888.4,3715.1 L1895.7,3720.7 L1903.1,3726.1 L1910.6,3731.3 L1918.2,3736.3 L1925.9,3741.0 L1933.7,3745.5 L1941.6,3749.8 L1949.5,3753.9 L1957.6,3757.7 L1965.7,3761.4 L1973.9,3764.9 L1982.2,3768.1 L1990.6,3771.2 L1999.0,3774.0 L2007.5,3776.7 L2016.1,3779.2 L2024.7,3781.5 L2033.4,3783.7 L2042.2,3785.6 L2051.0,3787.4 L2059.8,3789.0 L2068.7,3790.5 L2077.7,3791.8 L2086.7,3793.0 L2095.7,3794.0 L2104.7,3794.8 L2113.8,3795.5 L2123.0,3796.1 L2132.1,3796.5 L2141.3,3796.8 L2150.5,3796.9 L2159.7,3797.0 L2169.0,3796.9 L2178.2,3796.7 L2187.5,3796.4 L2196.7,3795.9 L2206.0,3795.4 L2215.3,3794.7 L2224.6,3794.0 L2233.9,3793.1 L2243.1,3792.2 L2252.4,3791.2 L2261.7,3790.1 L2270.9,3788.9 L2280.1,3787.6 L2289.3,3786.3 L2298.5,3784.8 L2307.6,3783.3 L2316.8,3781.8 L2325.9,3780.2 L2334.9,3778.5 L2344.0,3776.7 L2353.0,3774.9 L2362.0,3772.9 L2371.0,3771.0 L2379.9,3768.9 L2388.8,3766.8 L2397.7,3764.6 L2406.5,3762.3 L2415.3,3759.9 L2424.1,3757.5 L2432.9,3755.0 L2441.6,3752.4 L2450.3,3749.8 L2458.9,3747.0 L2467.5,3744.2 L2476.1,3741.3 L2484.7,3738.4 L2493.2,3735.3 L2501.6,3732.2 L2510.1,3729.0 L2518.5,3725.7 L2526.8,3722.3 L2535.2,3718.9 L2543.4,3715.4 L2551.7,3711.8 L2559.9,3708.1 L2568.1,3704.3 L2576.2,3700.4 L2584.3,3696.5 L2592.3,3692.5 L2600.3,3688.4 L2608.2,3684.2 L2616.2,3679.9 L2624.0,3675.5 L2631.8,3671.1 L2639.6,3666.5 L2647.3,3661.9 L2655.0,3657.2 L2662.7,3652.4 L2670.3,3647.6 L2677.9,3642.6 L2685.4,3637.6 L2693.0,3632.6 L2700.5,3627.5 L2708.0,3622.3 L2715.4,3617.1 L2722.9,3611.9 L2730.4,3606.6 L2737.8,3601.4 L2745.3,3596.0 L2752.8,3590.7 L2760.3,3585.4 L2767.8,3580.0 L2775.3,3574.7 L2782.8,3569.3 L2790.4,3564.0 L2798.0,3558.6 L2805.6,3553.3 L2813.3,3548.0 L2821.0,3542.8 L2828.7,3537.5 L2836.5,3532.3 L2844.3,3527.2 L2852.2,3522.1 L2860.2,3517.0 L2868.1,3512.0 L2876.0,3506.9 L2883.9,3501.8 L2891.5,3496.7 L2899.0,3491.4 L2906.2,3485.9 L2913.1,3480.3 L2919.6,3474.4 L2925.7,3468.3 L2931.3,3461.9 L2936.4,3455.1 L2941.0,3448.0 L2944.8,3440.5 L2947.7,3432.6 L2949.1,3424.2 L2948.6,3415.3 L2945.7,3405.8" stroke="#fff" stroke-width="15" fill="none" stroke-linecap="butt" stroke-linejoin="round"/>
<path d="M1580,3196 L1562,3183 L1534,3204 Q1522,3213 1522,3232 L1522,3302 C1534,3314 1535,3334 1522,3347 L1522,3418 C1522,3428 1536,3434 1546,3439 L1562,3430 L1580,3427" stroke-width="7" fill="#fff" />
<line x1="1543" y1="3236" x2="1543" y2="3436" stroke-width="7" stroke-linecap="butt"/>
<line x1="1524" y1="3231" x2="1543" y2="3239" stroke-width="6" stroke-linecap="round"/>
<line x1="1543" y1="3236" x2="1580" y2="3203" stroke-width="6" stroke-linecap="round"/>
<ellipse cx="1560" cy="3243" rx="11.5" ry="15.5" stroke-width="0" fill="#000" transform="rotate(20 1560 3243)"/>
<path d="M1559,3252 Q1565,3248 1566,3238" stroke-width="1.5" fill="none" stroke="#fff"/>
<ellipse cx="1560" cy="3408" rx="11.5" ry="15.5" stroke-width="0" fill="#000" transform="rotate(20 1560 3408)"/>
<path d="M1559,3417 Q1565,3413 1566,3403" stroke-width="1.5" fill="none" stroke="#fff"/>
<path d="M1544,3291 L1572,3279 L1573,3361 L1544,3375 Z" stroke="none" fill="#000"/>
<path d="M1551,3297 L1564,3291 L1561,3312 L1551,3316 Z" stroke="none" fill="#fff"/>
<path d="M1552,3345 L1565,3334 L1565,3353 Z" stroke="none" fill="#fff"/>
<line x1="1563" y1="3150" x2="1563" y2="3182" stroke-width="5" stroke-linecap="round"/>
<line x1="1564" y1="3432" x2="1564" y2="3455" stroke-width="5" stroke-linecap="round"/>
<line x1="1589.5" y1="3168" x2="1589.5" y2="3440" stroke-width="19" stroke-linecap="butt"/>
<line x1="1582" y1="3166.7" x2="1692" y2="3226.6" stroke-width="5" stroke-linecap="round"/>
<line x1="1582" y1="3188.9" x2="1692" y2="3246.6" stroke-width="5" stroke-linecap="round"/>
<path d="M1597.7,3201 L1686.5,3248.8 L1686.5,3486.4 L1597.7,3437.5" stroke-width="6" fill="none" />
<line x1="1564.4" y1="3455.3" x2="1695.4" y2="3530.8" stroke-width="10" stroke-linecap="round"/>
<line x1="1582" y1="3439.8" x2="1691" y2="3502" stroke-width="5" stroke-linecap="round"/>
<line x1="1576" y1="3138" x2="1700" y2="3212" stroke-width="5" stroke-linecap="round"/>
<line x1="1572" y1="3158" x2="1696" y2="3231" stroke-width="5" stroke-linecap="round"/>
<path d="M1572,3158 C1566,3152 1568,3140 1576,3136" stroke-width="5" fill="none" />
<line x1="1638.6" y1="3119" x2="1812.4" y2="3025" stroke-width="12" stroke-linecap="round"/>
<line x1="1655" y1="3129" x2="1742" y2="3178.4" stroke-width="5" stroke-linecap="round"/>
<line x1="1814.7" y1="3025.7" x2="1915.7" y2="3082" stroke-width="8" stroke-linecap="round"/>
<line x1="1743" y1="3182" x2="1913" y2="3085" stroke-width="9" stroke-linecap="round"/>
<line x1="1705" y1="3210" x2="1962" y2="3066" stroke-width="5" stroke-linecap="round"/>
<line x1="1845" y1="2990.5" x2="2007.3" y2="3084.5" stroke-width="9" stroke-linecap="round"/>
<path d="M1786.5,3031 L1786.5,3009.3 L1833,2984 L1850,2992 L1800,3019" stroke-width="6" fill="#fff" stroke-linejoin="round"/>
<path d="M1572,3150 L1572,3134 L1618,3107 L1636,3117 L1590,3143" stroke-width="6" fill="#fff" stroke-linejoin="round"/>
<line x1="1695" y1="3228" x2="1695" y2="3531" stroke-width="6" stroke-linecap="butt"/>
<path d="M1695,3531 L1737,3551" stroke-width="8" fill="none" />
<path d="M1695,3228 C1695,3215 1705,3210 1714,3212 L1738,3226" stroke-width="6" fill="none" />
<path d="M1735,3245 Q1735,3230 1748,3223 L1992,3087 Q2005.5,3080 2005.5,3095 L2005.5,3380 Q2005.5,3393 1993,3400 L1748,3538 Q1735,3546 1735,3532 Z" stroke-width="10" fill="#fff" />
<circle cx="1743" cy="3241.7" r="12" stroke="none" fill="#000"/>
<circle cx="1991.8" cy="3103.3" r="12" stroke="none" fill="#000"/>
<circle cx="1994.7" cy="3390.3" r="12" stroke="none" fill="#000"/>
<circle cx="1744.5" cy="3531.6" r="12" stroke="none" fill="#000"/>
<path d="M1766.5,3265 Q1766.5,3255 1775,3250 L1962,3145 Q1969.7,3141 1969.7,3150 L1971,3366 Q1971,3375.6 1962,3381 L1776,3486 Q1768,3490.4 1768,3481 Z" stroke-width="7" fill="none" />
<ellipse cx="1933.8" cy="3310.8" rx="2.5" ry="4.5" stroke-width="4" fill="#000" transform="rotate(20 1933.8 3310.8)"/>
<path d="M2331.7,2955.4 L2331.7,2730 Q2331.7,2693.3 2363,2675.5 L2843.6,2401 Q2862.4,2390.3 2862.4,2412 L2862.4,2652.4 Z" stroke-width="7" fill="none" />
<line x1="2338" y1="2962" x2="2862" y2="2660" stroke-width="5" stroke-linecap="round"/>
<ellipse cx="2374" cy="2714.4" rx="9" ry="12.5" stroke-width="6" fill="#000" transform="rotate(25 2374 2714.4)"/>
<ellipse cx="2375" cy="2714.4" rx="2" ry="4" stroke-width="0" fill="#fff" transform="rotate(25 2375 2714.4)"/>
<ellipse cx="2820" cy="2457.5" rx="9" ry="12.5" stroke-width="6" fill="#000" transform="rotate(25 2820 2457.5)"/>
<ellipse cx="2821" cy="2457.5" rx="2" ry="4" stroke-width="0" fill="#fff" transform="rotate(25 2821 2457.5)"/>
<ellipse cx="2374" cy="2894" rx="9" ry="12.5" stroke-width="6" fill="#000" transform="rotate(25 2374 2894)"/>
<ellipse cx="2375" cy="2894" rx="2" ry="4" stroke-width="0" fill="#fff" transform="rotate(25 2375 2894)"/>
<ellipse cx="2820" cy="2637.4" rx="9" ry="12.5" stroke-width="6" fill="#000" transform="rotate(25 2820 2637.4)"/>
<ellipse cx="2821" cy="2637.4" rx="2" ry="4" stroke-width="0" fill="#fff" transform="rotate(25 2821 2637.4)"/>
<ellipse cx="2597" cy="2586.7" rx="9.5" ry="12.5" stroke-width="4" fill="#000" transform="rotate(25 2597 2586.7)"/>
<ellipse cx="2597" cy="2765" rx="9.5" ry="12.5" stroke-width="4" fill="#000" transform="rotate(25 2597 2765)"/>
<rect x="2408" y="2675" width="44" height="16" rx="8" stroke-width="6" fill="#fff" transform="rotate(-29.7 2430 2683)"/>
<rect x="2742" y="2482" width="44" height="16" rx="8" stroke-width="6" fill="#fff" transform="rotate(-29.7 2764 2490)"/>
<rect x="2408" y="2856" width="44" height="16" rx="8" stroke-width="6" fill="#fff" transform="rotate(-29.7 2430 2864)"/>
<rect x="2742" y="2661" width="44" height="16" rx="8" stroke-width="6" fill="#fff" transform="rotate(-29.7 2764 2669)"/>
<path d="M2330,2958 L2636,3481.5 Q2645,3496 2662,3496" stroke-width="9" fill="none" />
<line x1="2862" y1="2656" x2="2907" y2="2730" stroke-width="6" stroke-linecap="round"/>
<line x1="2390.6" y1="3030.6" x2="2923" y2="2725" stroke-width="12" stroke-linecap="round"/>
<line x1="2923" y1="2725" x2="3191" y2="3188" stroke-width="13" stroke-linecap="round"/>
<line x1="2660" y1="3494" x2="3193" y2="3187" stroke-width="10" stroke-linecap="round"/>
<line x1="2394" y1="3031" x2="2672" y2="3485" stroke-width="21" stroke-linecap="butt"/>
<line x1="2389" y1="3040" x2="2663" y2="3484" stroke="#fff" stroke-width="1.5" stroke-dasharray="2 4"/>
<path d="M2901,3361.6 L2928.5,3344.5 L2962.8,3396 L2935,3412 Z" stroke-width="7" fill="#fff" stroke-linejoin="round"/>
<line x1="2912" y1="3379" x2="2942" y2="3362" stroke-width="5" stroke-linecap="round"/>
<line x1="2922" y1="3395" x2="2952" y2="3378" stroke-width="5" stroke-linecap="round"/>
<path d="M2952,3334 C2960,3325 2985,3325 2992,3340 C2995,3352 2975,3352 2958,3340" stroke-width="6" fill="none" /></svg></body></html>
